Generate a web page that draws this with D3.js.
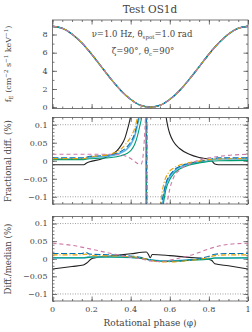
<!DOCTYPE html>
<html>
<head>
<meta charset="UTF-8">
<title>Test OS1d</title>
<style>
  body { margin: 0; background: #fff; }
  text { font-family: 'DejaVu Serif', serif; fill: #444; }
</style>
</head>
<body>
<svg></svg>
<script src="https://d3js.org/d3.v7.min.js"></script>
<script>
// ---- data ----
const fluxPhase = [0, 0.05, 0.1, 0.15, 0.2, 0.25, 0.3, 0.35, 0.4, 0.45, 0.5, 0.55, 0.6, 0.65, 0.7, 0.75, 0.8, 0.85, 0.9, 0.95, 1];
const fluxE = [8.9, 8.68, 8.05, 7.07, 5.83, 4.45, 3.07, 1.83, 0.85, 0.2, 0.0, 0.2, 0.85, 1.83, 3.07, 4.45, 5.83, 7.07, 8.05, 8.68, 8.9];

// fractional difference (%), [phase, value]
const fracBlack = [[0,-0.011],[0.16,-0.011],[0.175,-0.006],[0.19,-0.003],[0.25,0.005],[0.3,0.016],[0.33,0.028],[0.35,0.042],[0.37,0.062],[0.38,0.08],[0.39,0.1],[0.4,0.125],[0.45,0.5],[0.49,2],[0.53,0.5],[0.58,0.125],[0.59,0.095],[0.6,0.075],[0.62,0.052],[0.65,0.034],[0.7,0.018],[0.75,0.009],[0.8,0.004],[0.81,0.002],[0.83,-0.009],[0.85,-0.011],[1,-0.011]];
const fracSky = [[0,0.005],[0.16,0.005],[0.18,0.008],[0.3,0.014],[0.35,0.022],[0.38,0.032],[0.4,0.045],[0.42,0.068],[0.435,0.1],[0.445,0.13],[0.47,0.6],[0.478,3],[0.479,-3],[0.5,-0.6],[0.55,-0.16],[0.563,-0.12],[0.57,-0.095],[0.58,-0.068],[0.6,-0.044],[0.62,-0.03],[0.65,-0.018],[0.7,-0.009],[0.75,-0.004],[0.8,0.0],[0.83,0.004],[0.85,0.005],[1,0.005]];
const fracBlue = [[0,0.008],[0.16,0.008],[0.18,0.011],[0.3,0.017],[0.35,0.026],[0.38,0.038],[0.4,0.052],[0.42,0.075],[0.432,0.1],[0.442,0.13],[0.47,0.6],[0.48,3],[0.481,-3],[0.5,-0.6],[0.55,-0.15],[0.558,-0.12],[0.57,-0.085],[0.58,-0.062],[0.6,-0.04],[0.62,-0.027],[0.65,-0.016],[0.7,-0.007],[0.75,-0.002],[0.8,0.003],[0.83,0.007],[0.85,0.008],[1,0.008]];
const fracOrange = [[0,0.006],[0.16,0.006],[0.18,0.009],[0.3,0.019],[0.35,0.032],[0.38,0.05],[0.4,0.066],[0.42,0.09],[0.43,0.11],[0.438,0.13],[0.47,0.6],[0.485,3],[0.486,-3],[0.5,-0.6],[0.545,-0.15],[0.553,-0.12],[0.56,-0.09],[0.57,-0.062],[0.59,-0.036],[0.62,-0.02],[0.65,-0.012],[0.7,-0.005],[0.75,-0.001],[0.8,0.003],[0.85,0.005],[1,0.006]];
const fracGreen = [[0,0.003],[0.16,0.003],[0.18,0.005],[0.3,0.009],[0.35,0.014],[0.38,0.02],[0.4,0.028],[0.42,0.045],[0.435,0.07],[0.448,0.1],[0.458,0.13],[0.47,0.6],[0.48,3],[0.481,-3],[0.5,-0.6],[0.555,-0.16],[0.567,-0.12],[0.58,-0.08],[0.6,-0.052],[0.62,-0.036],[0.65,-0.023],[0.7,-0.012],[0.75,-0.006],[0.8,-0.002],[0.85,0.0],[1,0.001]];
const fracPink = [[0,0.018],[0.3,0.018],[0.35,0.016],[0.38,0.012],[0.4,0.006],[0.42,-0.002],[0.44,-0.009],[0.452,-0.01],[0.46,0.0],[0.466,0.03],[0.472,0.08],[0.476,0.13],[0.48,0.6],[0.483,3],[0.484,-3],[0.5,-0.8],[0.57,-0.16],[0.585,-0.12],[0.6,-0.078],[0.62,-0.046],[0.65,-0.026],[0.7,-0.009],[0.75,0.002],[0.8,0.008],[0.85,0.012],[0.9,0.015],[1,0.018]];

// difference from median (%), [phase, value]
const medBlack = [[0,-0.029],[0.1,-0.022],[0.158,-0.018],[0.175,-0.012],[0.2,0.0],[0.22,0.003],[0.3,0.008],[0.4,0.014],[0.48,0.019],[0.49,0.013],[0.5,0.003],[0.51,0.012],[0.6,0.009],[0.7,0.004],[0.8,-0.002],[0.815,-0.005],[0.83,-0.014],[0.9,-0.02],[1,-0.029]];
const medSky = [[0,0.002],[0.16,0.002],[0.18,0.005],[0.3,0.005],[0.4,0.004],[0.45,0.002],[0.5,-0.003],[0.55,-0.006],[0.6,-0.006],[0.7,-0.003],[0.8,0.0],[0.83,0.002],[1,0.002]];
const medBlue = [[0,0.015],[0.15,0.015],[0.17,0.018],[0.19,0.013],[0.3,0.011],[0.4,0.008],[0.45,0.004],[0.5,-0.004],[0.55,-0.008],[0.6,-0.008],[0.7,-0.004],[0.78,0.004],[0.8,0.007],[0.83,0.013],[0.9,0.015],[1,0.015]];
const medOrange = [[0,0.011],[0.15,0.011],[0.17,0.013],[0.2,0.009],[0.3,0.008],[0.4,0.006],[0.45,0.003],[0.5,-0.004],[0.55,-0.009],[0.6,-0.009],[0.7,-0.005],[0.8,0.004],[0.83,0.009],[0.9,0.011],[1,0.011]];
const medGreen = [[0,0.003],[0.17,0.003],[0.2,0.005],[0.3,0.005],[0.4,0.004],[0.5,-0.003],[0.55,-0.007],[0.6,-0.007],[0.7,-0.004],[0.8,-0.001],[0.83,0.002],[1,0.003]];
const medPink = [[0,0.044],[0.1,0.038],[0.2,0.027],[0.3,0.015],[0.4,0.004],[0.45,0.0],[0.5,-0.006],[0.55,-0.008],[0.6,-0.004],[0.65,0.002],[0.7,0.009],[0.75,0.018],[0.8,0.028],[0.85,0.036],[0.9,0.041],[1,0.044]];

const xTicks = [0, 0.2, 0.4, 0.6, 0.8, 1];
const fluxTicks = [0, 2, 4, 6, 8];
const diffTicks = [-0.1, -0.05, 0, 0.05, 0.1];

const styles = {
  black:  { color: "#222222", dash: null,      w: 1.1 },
  sky:    { color: "#56B4E9", dash: null,      w: 1.6 },
  green:  { color: "#009E73", dash: null,      w: 1.1 },
  blue:   { color: "#0072B2", dash: "6,2.5",   w: 1.1 },
  orange: { color: "#E69F00", dash: "5,2,1,2", w: 1.1 },
  pink:   { color: "#CC79A7", dash: "4,3",     w: 1.1 }
};

const width = 252, height = 332;
const left = 52.5, right = 248;

const svg = d3.select("svg").attr("width", width).attr("height", height);

const x = d3.scaleLinear().domain([0, 1]).range([left, right]);

function panel(id, top, bottom, yDomain, majors, minorStep, fmt) {
  const y = d3.scaleLinear().domain(yDomain).range([bottom, top]);
  const g = svg.append("g");

  g.append("clipPath").attr("id", id)
    .append("rect").attr("x", left).attr("y", top)
    .attr("width", right - left).attr("height", bottom - top);

  const minorY = d3.range(Math.ceil(yDomain[0] / minorStep), Math.floor(yDomain[1] / minorStep) + 1)
    .map(i => +(i * minorStep).toFixed(4));
  const minorX = d3.range(0, 21).map(i => i * 0.05);

  const axes = [
    [d3.axisBottom(x), bottom, minorX, xTicks],
    [d3.axisTop(x), top, minorX, xTicks],
  ];
  axes.forEach(([ax, pos, minor, major]) => {
    g.append("g").attr("transform", `translate(0,${pos})`)
      .call(ax.tickValues(minor).tickSize(-2).tickFormat(""));
    g.append("g").attr("transform", `translate(0,${pos})`)
      .call(ax.tickValues(major).tickSize(-4.5).tickFormat(""));
  });
  [[d3.axisLeft(y), left], [d3.axisRight(y), right]].forEach(([ax, pos]) => {
    g.append("g").attr("transform", `translate(${pos},0)`)
      .call(ax.tickValues(minorY).tickSize(-2).tickFormat(""));
    g.append("g").attr("transform", `translate(${pos},0)`)
      .call(ax.tickValues(majors).tickSize(-4.5).tickFormat(""));
  });
  g.selectAll(".domain").remove();
  g.selectAll(".tick line").attr("stroke", "#555").attr("stroke-width", 0.8);

  // y tick labels
  g.selectAll(".ylab").data(majors).enter().append("text")
    .attr("x", left - 5).attr("y", d => y(d)).attr("dy", "0.35em")
    .attr("text-anchor", "end").attr("font-size", 8).text(fmt);

  const plot = g.append("g").attr("clip-path", `url(#${id})`);
  g.append("rect").attr("x", left).attr("y", top)
    .attr("width", right - left).attr("height", bottom - top)
    .attr("fill", "none").attr("stroke", "#555").attr("stroke-width", 0.8);
  return { y, plot, g };
}

function draw(p, data, st) {
  const line = d3.line().x(d => x(d[0])).y(d => p.y(d[1])).curve(d3.curveMonotoneX);
  p.plot.append("path").datum(data)
    .attr("d", line).attr("fill", "none")
    .attr("stroke", st.color).attr("stroke-width", st.w)
    .attr("stroke-dasharray", st.dash);
}

const fmt = d => d3.format("~g")(d);

// panel 1: flux
const p1 = panel("c1", 20, 108.5, [-0.15, 9.6], fluxTicks, 1, fmt);
const fluxPts = fluxPhase.map((ph, i) => [ph, fluxE[i]]);
["black", "sky", "green", "blue", "orange", "pink"].forEach(k => draw(p1, fluxPts, styles[k]));

// panel 2: fractional diff
const p2 = panel("c2", 117.5, 204, [-0.12, 0.12], diffTicks, 0.01, fmt);
diffTicks.filter(d => Math.abs(d) === 0.1).forEach(d => {
  p2.plot.append("line").attr("x1", left).attr("x2", right)
    .attr("y1", p2.y(d)).attr("y2", p2.y(d))
    .attr("stroke", "#777").attr("stroke-width", 0.7).attr("stroke-dasharray", "1,1.5");
});
draw(p2, fracBlack, styles.black);
draw(p2, fracSky, styles.sky);
draw(p2, fracGreen, styles.green);
draw(p2, fracBlue, styles.blue);
draw(p2, fracOrange, styles.orange);
draw(p2, fracPink, styles.pink);

// panel 3: diff / median
const p3 = panel("c3", 216.5, 301, [-0.12, 0.12], diffTicks, 0.01, fmt);
diffTicks.filter(d => Math.abs(d) === 0.1).forEach(d => {
  p3.plot.append("line").attr("x1", left).attr("x2", right)
    .attr("y1", p3.y(d)).attr("y2", p3.y(d))
    .attr("stroke", "#777").attr("stroke-width", 0.7).attr("stroke-dasharray", "1,1.5");
});
draw(p3, medBlack, styles.black);
draw(p3, medSky, styles.sky);
draw(p3, medGreen, styles.green);
draw(p3, medBlue, styles.blue);
draw(p3, medOrange, styles.orange);
draw(p3, medPink, styles.pink);

// x tick labels (bottom panel only)
svg.selectAll(".xlab").data(xTicks).enter().append("text")
  .attr("x", d => x(d)).attr("y", 312)
  .attr("text-anchor", "middle").attr("font-size", 8).text(fmt);

// titles and labels
svg.append("text").attr("x", 150).attr("y", 13).attr("text-anchor", "middle")
  .attr("font-size", 10.5).text("Test OS1d");

const ann1 = svg.append("text").attr("x", 142).attr("y", 37).attr("text-anchor", "middle").attr("font-size", 8.5);
ann1.append("tspan").text("\u03bd=1.0 Hz, \u03b8");
ann1.append("tspan").attr("dy", 2).attr("font-size", 5.5).text("spot");
ann1.append("tspan").attr("dy", -2).text("=1.0 rad");

const ann2 = svg.append("text").attr("x", 143).attr("y", 54).attr("text-anchor", "middle").attr("font-size", 8.5);
ann2.append("tspan").text("\u03b6=90\u00b0, \u03b8");
ann2.append("tspan").attr("dy", 2).attr("font-size", 5.5).text("c");
ann2.append("tspan").attr("dy", -2).text("=90\u00b0");

const yl1 = svg.append("text").attr("transform", "translate(11,64) rotate(-90)")
  .attr("text-anchor", "middle").attr("font-size", 8);
yl1.append("tspan").text("f");
yl1.append("tspan").attr("dy", 2).attr("font-size", 5.5).text("E");
yl1.append("tspan").attr("dy", -2).text(" (cm");
yl1.append("tspan").attr("dy", -3).attr("font-size", 5.5).text("\u22122");
yl1.append("tspan").attr("dy", 3).text(" s");
yl1.append("tspan").attr("dy", -3).attr("font-size", 5.5).text("\u22121");
yl1.append("tspan").attr("dy", 3).text(" keV");
yl1.append("tspan").attr("dy", -3).attr("font-size", 5.5).text("\u22121");
yl1.append("tspan").attr("dy", 3).text(")");

svg.append("text").attr("transform", "translate(11,161) rotate(-90)")
  .attr("text-anchor", "middle").attr("font-size", 8.6).text("Fractional diff. (%)");
svg.append("text").attr("transform", "translate(11,259) rotate(-90)")
  .attr("text-anchor", "middle").attr("font-size", 8.6).text("Diff./median (%)");

svg.append("text").attr("x", 150).attr("y", 326).attr("text-anchor", "middle")
  .attr("font-size", 9).text("Rotational phase (\u03c6)");
</script>
</body>
</html>
